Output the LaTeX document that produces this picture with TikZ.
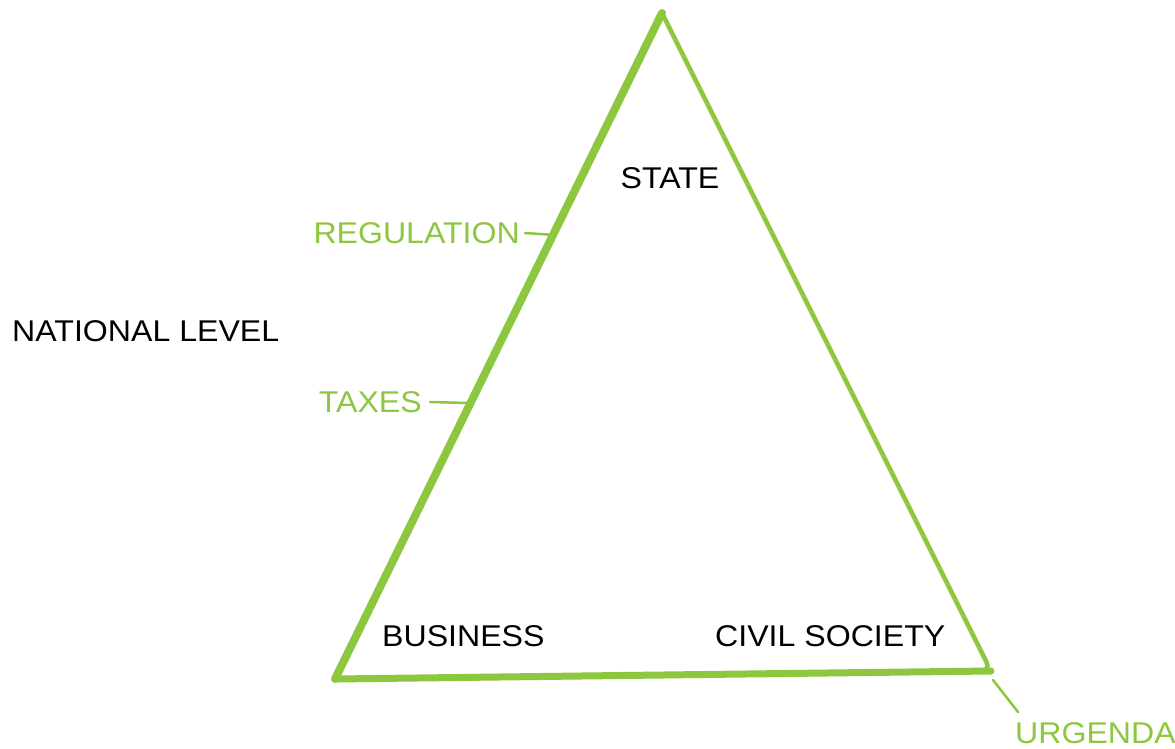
\documentclass[tikz,border=0pt]{standalone}
\usepackage{fontspec}
\usetikzlibrary{calc}
\setmainfont{Liberation Sans}[FakeStretch=1.07]
\definecolor{lgreen}{HTML}{8DC63F}
\tikzset{
  lbl/.style={font=\fontsize{30}{33}\selectfont, text=black, inner sep=0pt},
  glbl/.style={lbl, text=lgreen},
  tri/.style={draw=lgreen, line join=round, line cap=round},
  tick/.style={draw=lgreen, line width=2.5pt, line cap=round}
}
\begin{document}
\begin{tikzpicture}[x=1pt,y=-1pt]
\useasboundingbox (0,0) rectangle (1175,749);
\coordinate (A) at (662,13);
\coordinate (B) at (335,679);
\coordinate (C) at (991,671);
\draw[tri, line width=8pt] (B) -- (A);
\draw[tri, line width=4.5pt, rounded corners=10pt] (A) -- (C) -- ($(C)!0.03!(B)$);
\draw[tri, line width=7pt] (C) -- (B);
\node[lbl] (state) at (670,178) {STATE};
\node[lbl, anchor=west] (nat) at (12,331) {NATIONAL LEVEL};
\node[lbl, anchor=west] (bus) at (382,636) {BUSINESS};
\node[lbl, anchor=west] (civ) at (715,636) {CIVIL SOCIETY};
\node[glbl, anchor=east] (reg) at (520,233) {REGULATION};
\node[glbl, anchor=east] (tax) at (422,402) {TAXES};
\node[glbl, anchor=west] (urg) at (1015,733) {URGENDA};
\coordinate (r1) at (555,235);
\coordinate (t1) at (468,403);
\coordinate (u1) at (993,680);
\coordinate (u2) at (1018,712);
\draw[tick] ([xshift=5pt]reg.east) -- (r1);
\draw[tick] ([xshift=8pt]tax.east) -- (t1);
\draw[tick] (u1) -- (u2);
\end{tikzpicture}
\end{document}
